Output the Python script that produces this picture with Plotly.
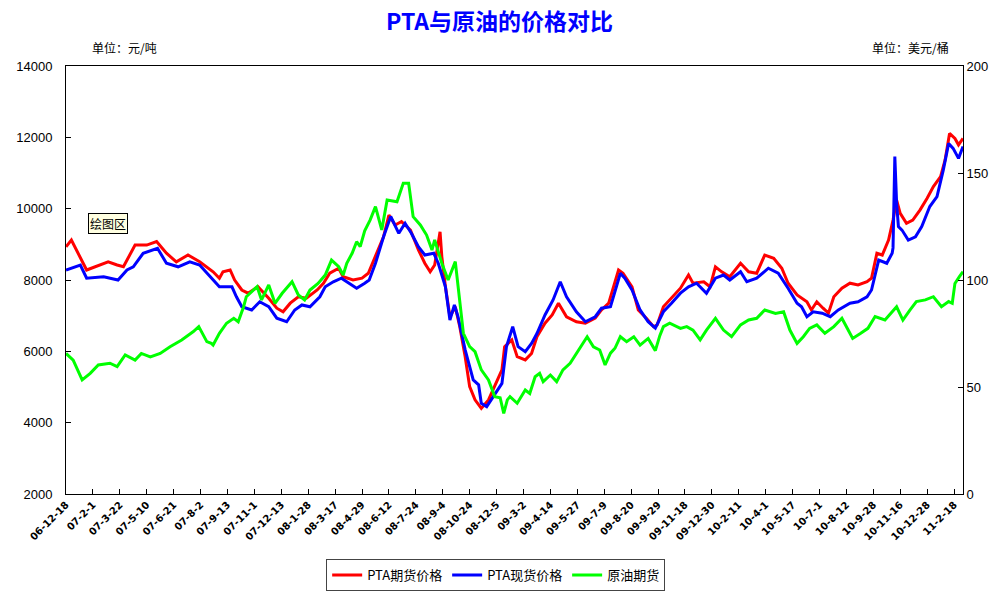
import plotly.graph_objects as go

# trading-day index on the category axis, one tick every 30 trading days
tick_labels = ['06-12-18', '07-2-1', '07-3-22', '07-5-10', '07-6-21', '07-8-2', '07-9-13',
               '07-11-1', '07-12-13', '08-1-28', '08-3-17', '08-4-29', '08-6-12', '08-7-24',
               '08-9-4', '08-10-24', '08-12-5', '09-3-2', '09-4-14', '09-5-27', '09-7-9',
               '09-8-20', '09-9-29', '09-11-18', '09-12-30', '10-2-11', '10-4-1', '10-5-17',
               '10-7-1', '10-8-12', '10-9-28', '10-11-16', '10-12-28', '11-2-18']
tick_pos = [i * 30 for i in range(len(tick_labels))]

# PTA期货价格 (元/吨)
fut_day = [0, 6, 23, 47, 57, 64, 77, 90, 101, 112, 123, 136, 149, 164, 171, 175, 183, 188, 196,
           203, 214, 226, 235, 242, 250, 259, 268, 280, 287, 294, 304, 309, 320, 330, 337, 345,
           354, 360, 367, 374, 384, 393, 400, 406, 411, 417, 419, 423, 428, 434, 439, 445, 450,
           456, 463, 471, 476, 486, 489, 497, 503, 512, 519, 525, 534, 542, 549, 558, 569, 579,
           590, 597, 605, 616, 621, 631, 638, 647, 655, 659, 666, 673, 685, 694, 699, 711, 718,
           724, 731, 740, 752, 761, 770, 779, 789, 798, 805, 815, 820, 826, 831, 837, 844, 850,
           856, 865, 874, 883, 893, 898, 904, 910, 917, 922, 926, 930, 937, 944, 952, 960, 967,
           975, 980, 985, 991, 995, 1000]
fut_price = [8930, 9120, 8280, 8510, 8420, 8370, 8980, 8980, 9080, 8750, 8510, 8700, 8510, 8230,
             8050, 8230, 8280, 8000, 7720, 7630, 7810, 7490, 7210, 7110, 7350, 7530, 7490, 7720,
             7910, 8190, 8330, 8090, 8000, 8050, 8190, 8650, 9210, 9820, 9540, 9640, 9400, 8840,
             8470, 8230, 8420, 9350, 8650, 7810, 6970, 7250, 6690, 5850, 5010, 4640, 4400, 4640,
             4920, 5480, 6130, 6320, 5850, 5760, 5940, 6410, 6790, 7020, 7350, 6970, 6830, 6790,
             6930, 7160, 7350, 8280, 8190, 7810, 7160, 6930, 6690, 6740, 7250, 7440, 7770, 8140,
             7910, 7950, 7810, 8370, 8230, 8090, 8470, 8230, 8190, 8700, 8610, 8330, 7910, 7580,
             7490, 7390, 7160, 7390, 7210, 7070, 7530, 7770, 7910, 7860, 7950, 8050, 8750, 8700,
             9120, 9680, 10240, 9870, 9590, 9680, 9960, 10290, 10620, 10900, 11360, 12110, 11970,
             11790, 11970]

# PTA现货价格 (元/吨)
spot_day = [0, 10, 16, 23, 42, 58, 68, 75, 86, 102, 112, 125, 138, 149, 161, 171, 185, 190, 196,
            207, 216, 226, 235, 246, 255, 263, 272, 283, 289, 298, 307, 324, 333, 338, 345, 354,
            362, 371, 378, 385, 393, 400, 410, 415, 423, 428, 433, 437, 445, 454, 460, 463, 469,
            476, 486, 491, 498, 504, 512, 519, 525, 534, 543, 551, 558, 569, 579, 590, 597, 607,
            618, 623, 631, 640, 649, 657, 666, 675, 685, 694, 703, 714, 724, 733, 740, 752, 759,
            770, 783, 794, 805, 815, 820, 826, 833, 843, 852, 861, 874, 883, 893, 898, 906, 915,
            921, 922, 924, 926, 928, 932, 939, 947, 954, 963, 971, 978, 984, 989, 995, 1000]
spot_price = [8280, 8370, 8420, 8050, 8090, 8000, 8280, 8370, 8750, 8890, 8470, 8370, 8510, 8420,
              8090, 7810, 7810, 7530, 7250, 7160, 7390, 7250, 6930, 6830, 7160, 7300, 7250, 7530,
              7810, 7950, 8050, 7770, 7910, 8000, 8470, 9210, 9780, 9310, 9590, 9310, 8930, 8700,
              8750, 8470, 7810, 6880, 7300, 6970, 6040, 5200, 5060, 4540, 4450, 4730, 5100, 6130,
              6690, 6130, 5990, 6220, 6500, 7020, 7440, 7950, 7530, 7110, 6830, 6970, 7210, 7250,
              8190, 8050, 7720, 7160, 6830, 6650, 7110, 7350, 7630, 7810, 7910, 7630, 8050, 8140,
              8000, 8230, 7950, 8050, 8330, 8190, 7770, 7350, 7250, 6970, 7110, 7070, 6970, 7160,
              7350, 7390, 7530, 7720, 8560, 8470, 8750, 8900, 11460, 10150, 9500, 9400, 9120, 9210,
              9500, 10060, 10340, 11080, 11830, 11690, 11410, 11740]

# 原油期货 (美元/桶)
oil_day = [0, 8, 18, 27, 36, 49, 57, 66, 77, 84, 94, 105, 116, 129, 142, 148, 157, 162, 164, 171,
           179, 187, 192, 198, 201, 213, 218, 226, 233, 241, 252, 259, 266, 272, 281, 289, 296,
           304, 309, 313, 319, 324, 328, 333, 339, 345, 352, 358, 369, 376, 382, 387, 395, 402,
           408, 411, 419, 426, 434, 439, 443, 450, 456, 463, 471, 478, 484, 488, 492, 495, 503,
           512, 517, 523, 528, 532, 540, 547, 554, 562, 569, 581, 588, 595, 601, 607, 612, 618,
           625, 633, 640, 649, 657, 662, 666, 673, 685, 692, 699, 707, 714, 724, 733, 742, 752,
           761, 770, 779, 791, 800, 807, 815, 822, 829, 837, 846, 856, 865, 872, 877, 886, 894,
           902, 913, 926, 933, 941, 948, 958, 967, 976, 984, 988, 991, 996, 1000]
oil_price = [65.7, 62.6, 53.3, 56.4, 60.3, 61.1, 59.5, 65.0, 62.6, 65.7, 64.1, 65.7, 68.8, 72.0,
             75.9, 78.2, 71.2, 70.4, 69.6, 75.1, 79.8, 82.1, 80.5, 87.5, 92.2, 96.9, 90.7, 97.7,
             89.1, 93.8, 99.2, 93.0, 90.7, 95.3, 98.4, 102.3, 109.3, 106.2, 102.3, 107.8, 112.5,
             117.9, 115.6, 123.0, 128.0, 134.3, 123.4, 137.4, 136.6, 145.2, 145.2, 129.6, 125.7,
             121.0, 114.0, 118.7, 107.8, 100.0, 108.6, 89.1, 75.1, 68.9, 66.5, 58.0, 53.3, 45.5,
             45.0, 37.7, 44.0, 45.5, 42.4, 48.6, 47.0, 54.8, 56.4, 52.5, 55.6, 52.5, 58.0, 61.1,
             65.8, 73.5, 68.8, 67.3, 60.3, 65.8, 68.1, 73.5, 71.2, 73.5, 69.6, 72.7, 67.0, 74.0,
             78.2, 79.8, 77.4, 78.2, 76.6, 72.0, 76.6, 82.1, 76.6, 73.5, 79.0, 81.3, 82.1, 86.0,
             84.4, 85.2, 76.6, 70.4, 73.5, 77.4, 79.0, 75.1, 78.2, 82.1, 76.6, 72.7, 75.1, 77.4,
             82.9, 81.3, 87.5, 81.3, 86.0, 89.9, 90.7, 92.2, 87.5, 89.9, 89.1, 98.4, 101.6, 103.9]

fut = go.Scatter(x=fut_day, y=fut_price, name='PTA期货价格', mode='lines',
                 line=dict(color='#FF0000', width=3))
spot = go.Scatter(x=spot_day, y=spot_price, name='PTA现货价格', mode='lines',
                  line=dict(color='#0000FF', width=3))
oil = go.Scatter(x=oil_day, y=oil_price, name='原油期货', mode='lines', yaxis='y2',
                 line=dict(color='#00FF00', width=3))

cjk = 'Noto Sans CJK SC'
layout = go.Layout(
    width=999, height=592,
    margin=dict(l=66, r=36, t=66, b=98, autoexpand=False),
    paper_bgcolor='white', plot_bgcolor='white',
    font=dict(family='Liberation Sans, Arial', size=12, color='black'),
    title=dict(text='<b>PTA与原油的价格对比</b>', x=0.5, xanchor='center', y=0.963,
               yanchor='middle', font=dict(family=cjk, size=23, color='#0000FF')),
    xaxis=dict(range=[0, 1000], tickvals=tick_pos, ticktext=tick_labels, tickangle=-45,
               ticks='inside', ticklen=5, tickcolor='black', showgrid=False, zeroline=False,
               showline=True, linecolor='black', linewidth=1, mirror=True,
               tickfont=dict(family='DejaVu Sans', size=10, color='black', weight='bold')),
    yaxis=dict(range=[2000, 14000], dtick=2000, tickformat='d', ticks='inside', ticklen=5,
               tickcolor='black', showgrid=False, zeroline=False, showline=True,
               linecolor='black', linewidth=1, ticklabelstandoff=10, tickfont=dict(size=13)),
    yaxis2=dict(range=[0, 200], dtick=50, tickformat='d', overlaying='y', side='right',
                ticks='inside', ticklen=5, tickcolor='black', showgrid=False, zeroline=False,
                showline=True, linecolor='black', linewidth=1, tickfont=dict(size=13)),
    legend=dict(orientation='h', x=0.479, xanchor='center', y=-0.2266, yanchor='bottom',
                bordercolor='#444444', borderwidth=1, bgcolor='white',
                font=dict(family=cjk, size=13), tracegroupgap=0),
    showlegend=True,
    annotations=[
        dict(text='单位：元/吨', x=0.0647, y=1.044, xref='paper', yref='paper',
             xanchor='center', yanchor='middle', showarrow=False,
             font=dict(family=cjk, size=12)),
        dict(text='单位：美元/桶', x=0.942, y=1.044, xref='paper', yref='paper',
             xanchor='center', yanchor='middle', showarrow=False,
             font=dict(family=cjk, size=12)),
        dict(text='绘图区', x=0.0468, y=0.632, xref='paper', yref='paper',
             xanchor='center', yanchor='middle', showarrow=False,
             bgcolor='#FFFFE1', bordercolor='black', borderwidth=1, borderpad=1,
             font=dict(family=cjk, size=12)),
    ],
)

fig = go.Figure(data=[fut, spot, oil], layout=layout)
# the page's default 8px body margin would shift the whole chart; drop it
fig.write_html('out.html', config={'displayModeBar': False},
               post_script="document.body.style.margin='0';")
